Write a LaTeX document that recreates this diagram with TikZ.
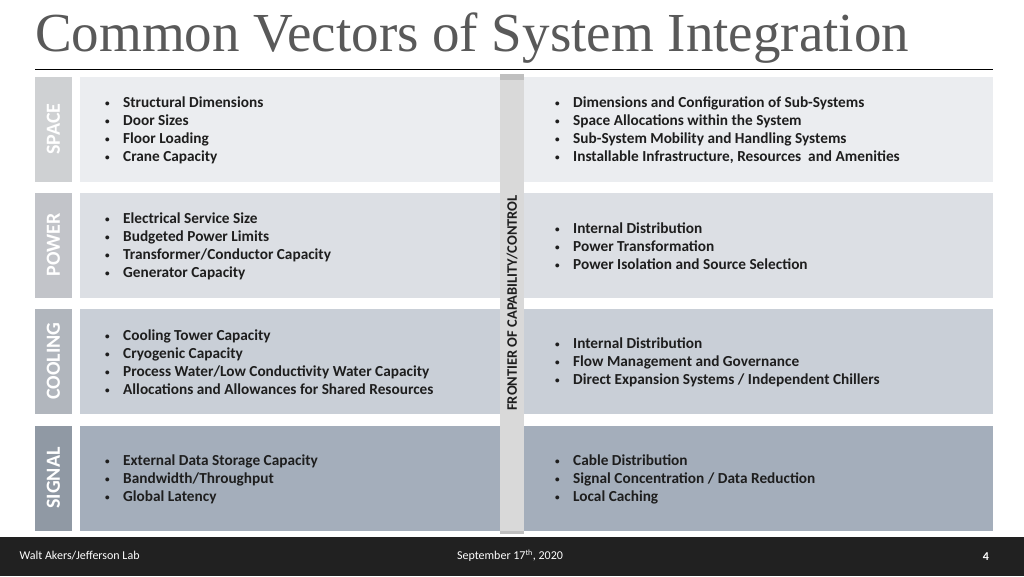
\documentclass[tikz,border=0pt]{standalone}
\usepackage{fontspec}
\setmainfont{Carlito}
\newfontfamily\titlefont{Liberation Serif}
\definecolor{spaceC}{HTML}{EBEDF0}
\definecolor{powerC}{HTML}{DCDFE4}
\definecolor{coolC}{HTML}{C9CFD7}
\definecolor{signalC}{HTML}{A4AEBB}
\definecolor{inkC}{HTML}{1E1E1E}
\tikzset{
    tagtext/.style={rotate=90, text=white, font=\bfseries\fontsize{20}{20}\selectfont},
    itemlist/.style={anchor=west, align=left, text=inkC, inner sep=0pt,
        font=\bfseries\fontsize{15.3}{18}\selectfont}
}
\newcommand{\bl}[1]{\makebox[18pt][l]{\raisebox{0.8pt}{\scalebox{0.6}{\textbullet}}}#1}
\begin{document}
\begin{tikzpicture}[x=1pt, y=-1pt]
    \useasboundingbox (0,0) rectangle (1024,576);
    \fill[white] (0,0) rectangle (1024,576);
    % Title
    \node (title) [anchor=base west, inner sep=0pt, text=black!65,
        font=\titlefont\fontsize{55}{55}\selectfont] at (35,51) {Common Vectors of System Integration};
    \draw[line width=1pt] (35,69) -- (993,69);
    % Rows
    \foreach \nm/\col/\top in {space/spaceC/77, power/powerC/193, cool/coolC/309, signal/signalC/426} {
        \fill[\col!88!black] (35,\top) rectangle (72,\top+105);
        \fill[\col] (80,\top) rectangle (993,\top+105);
        \coordinate (\nm-l) at (105,\top+53);
        \coordinate (\nm-r) at (555,\top+53);
        \coordinate (\nm-t) at (53.5,\top+52);
    }
    % Row tags
    \node (tagspace) [tagtext] at (space-t) {SPACE};
    \node (tagpower) [tagtext] at (power-t) {POWER};
    \node (tagcool) [tagtext] at (cool-t) {COOLING};
    \node (tagsignal) [tagtext] at (signal-t) {SIGNAL};
    % Left lists
    \node (spaceL) [itemlist] at (space-l) {\bl{Structural Dimensions}\\\bl{Door Sizes}\\\bl{Floor Loading}\\\bl{Crane Capacity}};
    \node (powerL) [itemlist] at (power-l) {\bl{Electrical Service Size}\\\bl{Budgeted Power Limits}\\\bl{Transformer/Conductor Capacity}\\\bl{Generator Capacity}};
    \node (coolL) [itemlist] at (cool-l) {\bl{Cooling Tower Capacity}\\\bl{Cryogenic Capacity}\\\bl{Process Water/Low Conductivity Water Capacity}\\\bl{Allocations and Allowances for Shared Resources}};
    \node (signalL) [itemlist] at (signal-l) {\bl{External Data Storage Capacity}\\\bl{Bandwidth/Throughput}\\\bl{Global Latency}};
    % Right lists
    \node (spaceR) [itemlist] at (space-r) {\bl{Dimensions and Configuration of Sub-Systems}\\\bl{Space Allocations within the System}\\\bl{Sub-System Mobility and Handling Systems}\\\bl{Installable Infrastructure, Resources\ \ and Amenities}};
    \node (powerR) [itemlist] at (power-r) {\bl{Internal Distribution}\\\bl{Power Transformation}\\\bl{Power Isolation and Source Selection}};
    \node (coolR) [itemlist] at (cool-r) {\bl{Internal Distribution}\\\bl{Flow Management and Governance}\\\bl{Direct Expansion Systems / Independent Chillers}};
    \node (signalR) [itemlist] at (signal-r) {\bl{Cable Distribution}\\\bl{Signal Concentration / Data Reduction}\\\bl{Local Caching}};
    % Frontier bar
    \fill[black!25] (500,74) rectangle (524,534);
    \fill[black!15] (500,80) rectangle (524,531);
    \node (frontier) [rotate=90, text=inkC, font=\bfseries\fontsize{14.5}{14.5}\selectfont] at (512,303) {FRONTIER OF CAPABILITY/CONTROL};
    % Footer
    \fill[black!87] (0,537) rectangle (1024,576);
    \node (author) [anchor=west, text=white, font=\fontsize{12}{12}\selectfont] at (16,556) {Walt Akers/Jefferson Lab};
    \node (date) [text=white, font=\fontsize{12}{12}\selectfont] at (510,556) {September 17\textsuperscript{th}, 2020};
    \node (page) [text=white, font=\bfseries\fontsize{12}{12}\selectfont] at (986,557) {4};
\end{tikzpicture}
\end{document}
